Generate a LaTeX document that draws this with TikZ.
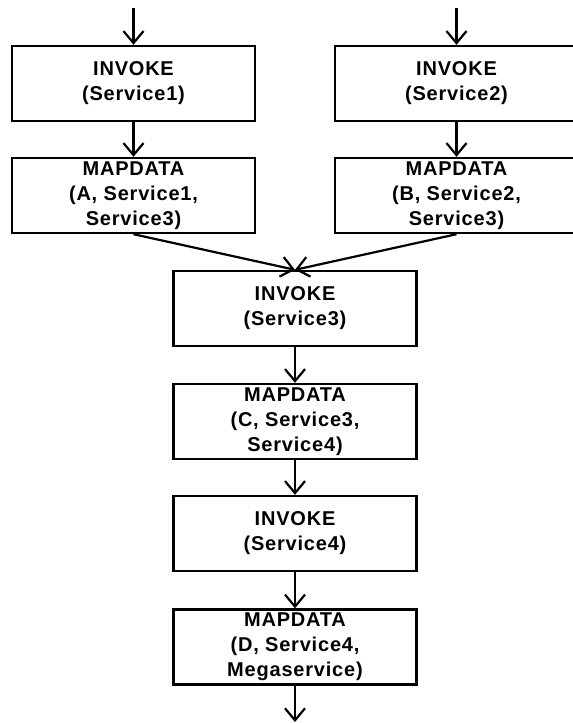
\documentclass[tikz,border=0pt]{standalone}
\usepackage{fontspec}
\setmainfont{Liberation Sans}[LetterSpace=4]
\usetikzlibrary{arrows.meta}

\begin{document}
\begin{tikzpicture}[x=0.5pt, y=-0.5pt,
        op/.style={draw, line width=1.2pt, minimum width=121.5pt, minimum height=37.5pt, inner sep=0pt, align=center, font=\fontsize{10}{12.5}\selectfont\bfseries},
        flow/.style={line width=1.1pt, -{Straight Barb[length=6pt, width=10pt]}}]
                \useasboundingbox (0, 0) rectangle (573, 723);

                \node[op] (inv1) at (133.5, 83.5) {INVOKE\\(Service1)};
                \node[op] (map1) at (133.5, 195.5) {MAPDATA\\(A, Service1,\\Service3)};
                \node[op] (inv2) at (456.5, 83.5) {INVOKE\\(Service2)};
                \node[op] (map2) at (456.5, 195.5) {MAPDATA\\(B, Service2,\\Service3)};
                \node[op] (inv3) at (295, 308.5) {INVOKE\\(Service3)};
                \node[op] (map3) at (295, 421.5) {MAPDATA\\(C, Service3,\\Service4)};
                \node[op] (inv4) at (295, 533.5) {INVOKE\\(Service4)};
                \node[op] (map4) at (295, 647) {MAPDATA\\(D, Service4,\\Megaservice)};

                \coordinate (in1) at (133.5, 8);
                \coordinate (in2) at (456.5, 8);
                \coordinate (out) at (295, 722);

                \foreach \a/\b in {in1/inv1, inv1/map1, in2/inv2, inv2/map2, inv3/map3, map3/inv4, inv4/map4, map4/out}
                    \draw[flow] (\a) -- (\b);
                \draw[flow] (map1.south) -- (inv3.north);
                \draw[flow] (map2.south) -- (inv3.north);
            \end{tikzpicture}
\end{document}
